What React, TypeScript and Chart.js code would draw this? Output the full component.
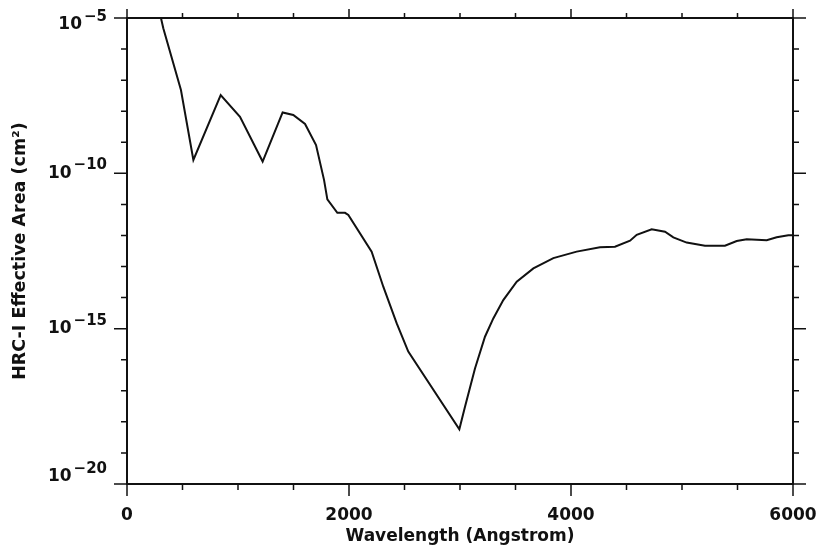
import React, { useEffect, useRef } from "react";
import { Chart, registerables } from "chart.js";

Chart.register(...registerables);

const wavelength = [
  306, 327, 486, 598, 844, 1018, 1222, 1402, 1498, 1604, 1703, 1775, 1805, 1895, 1964, 1994,
  2204, 2309, 2430, 2534, 2994, 3045, 3135, 3225, 3300, 3390, 3511, 3661, 3841, 4051, 4261,
  4396, 4532, 4592, 4727, 4847, 4922, 5042, 5207, 5387, 5493, 5583, 5763, 5853, 5958, 6000,
];
const effectiveArea = [
  1.0e-5, 4.68e-6, 4.79e-8, 2.69e-10, 3.31e-8, 6.61e-9, 2.4e-10, 9.12e-9, 7.59e-9, 3.89e-9,
  8.13e-10, 6.17e-11, 1.45e-11, 5.37e-12, 5.37e-12, 4.57e-12, 3.0e-13, 2.24e-14, 1.48e-15,
  1.82e-16, 5.75e-19, 3.09e-18, 5.25e-17, 5.5e-16, 2.14e-15, 8.32e-15, 3.24e-14, 8.71e-14,
  1.86e-13, 3.02e-13, 4.17e-13, 4.37e-13, 6.76e-13, 1.05e-12, 1.58e-12, 1.32e-12, 8.71e-13,
  5.89e-13, 4.68e-13, 4.68e-13, 6.61e-13, 7.59e-13, 7.08e-13, 8.71e-13, 1.02e-12, 1.02e-12,
];
const xTicks = [0, 500, 1000, 1500, 2000, 2500, 3000, 3500, 4000, 4500, 5000, 5500, 6000];
const xLabelTicks = [0, 2000, 4000, 6000];
const yDecades = [-20, -19, -18, -17, -16, -15, -14, -13, -12, -11, -10, -9, -8, -7, -6, -5];
const yLabelDecades = [-5, -10, -15, -20];

const FONT = "'DejaVu Sans', sans-serif";

const framePlugin = {
  id: "frameTicks",
  afterDraw(chart: any) {
    const ctx = chart.ctx;
    const { left, right, top, bottom } = chart.chartArea;
    const xs = chart.scales.x;
    const ys = chart.scales.y;
    ctx.save();
    ctx.strokeStyle = "#111";
    ctx.lineWidth = 2;
    ctx.strokeRect(left, top, right - left, bottom - top);
    ctx.lineWidth = 1.5;
    ctx.beginPath();
    for (const v of xTicks) {
      const px = xs.getPixelForValue(v);
      const major = xLabelTicks.includes(v);
      ctx.moveTo(px, bottom);
      ctx.lineTo(px, bottom + (major ? 12 : 6));
      ctx.moveTo(px, top);
      ctx.lineTo(px, top - (major ? 9 : 5));
    }
    for (const e of yDecades) {
      const py = ys.getPixelForValue(Math.pow(10, e));
      const major = yLabelDecades.includes(e);
      ctx.moveTo(left, py);
      ctx.lineTo(left - (major ? 13 : 6), py);
      ctx.moveTo(right, py);
      ctx.lineTo(right + (major ? 13 : 6), py);
    }
    ctx.stroke();

    ctx.fillStyle = "#111";
    ctx.textBaseline = "middle";
    ctx.textAlign = "left";
    for (const e of yLabelDecades) {
      let py = ys.getPixelForValue(Math.pow(10, e));
      if (e === -5) py += 7;
      if (e === -20) py -= 7;
      const sup = "\u2212" + String(-e);
      ctx.font = `bold 15px ${FONT}`;
      const supW = ctx.measureText(sup).width;
      const supX = 107 - supW;
      ctx.fillText(sup, supX, py - 8);
      ctx.font = `bold 17px ${FONT}`;
      const baseW = ctx.measureText("10").width;
      ctx.fillText("10", supX - baseW - 2, py);
    }
    ctx.restore();
  },
};

export default function App() {
  const ref = useRef<HTMLCanvasElement | null>(null);
  useEffect(() => {
    document.body.style.margin = "0";
    if (!ref.current) return;
    const chart = new Chart(ref.current, {
      type: "line",
      data: {
        datasets: [
          {
            data: wavelength.map((w, i) => ({ x: w, y: effectiveArea[i] })),
            borderColor: "#111",
            borderWidth: 2,
            pointRadius: 0,
            tension: 0,
            fill: false,
          },
        ],
      },
      options: {
        animation: false,
        responsive: false,
        devicePixelRatio: 1,
        layout: { padding: { top: 18, right: 28, left: 0, bottom: 0 } },
        plugins: { legend: { display: false }, tooltip: { enabled: false } },
        scales: {
          x: {
            type: "linear",
            min: 0,
            max: 6000,
            grid: { display: false },
            border: { display: false },
            afterBuildTicks: (scale: any) => {
              scale.ticks = xTicks.map((v) => ({ value: v }));
            },
            afterFit: (scale: any) => {
              scale.height = 68;
              scale.paddingLeft = 0;
              scale.paddingRight = 0;
            },
            ticks: {
              autoSkip: false,
              maxRotation: 0,
              padding: 13,
              color: "#111",
              font: { family: FONT, size: 17, weight: "bold" },
              callback: (v: any) => (xLabelTicks.includes(Number(v)) ? String(v) : ""),
            },
            title: {
              display: true,
              text: "Wavelength (Angstrom)",
              color: "#111",
              font: { family: FONT, size: 17, weight: "bold" },
              padding: { top: 0, bottom: 5 },
            },
          },
          y: {
            type: "logarithmic",
            min: 1e-20,
            max: 1e-5,
            grid: { display: false },
            border: { display: false },
            ticks: { display: false },
            afterFit: (scale: any) => {
              scale.width = 127;
              scale.paddingTop = 0;
              scale.paddingBottom = 0;
            },
            title: {
              display: true,
              text: "HRC-I Effective Area (cm\u00B2)",
              color: "#111",
              font: { family: FONT, size: 17.5, weight: "bold" },
              padding: { top: 10, bottom: 0 },
            },
          },
        },
      },
      plugins: [framePlugin],
    });
    return () => chart.destroy();
  }, []);
  return (
    <div style={{ position: "absolute", left: 0, top: 0, width: 821, height: 552 }}>
      <canvas ref={ref} width={821} height={552} />
    </div>
  );
}
